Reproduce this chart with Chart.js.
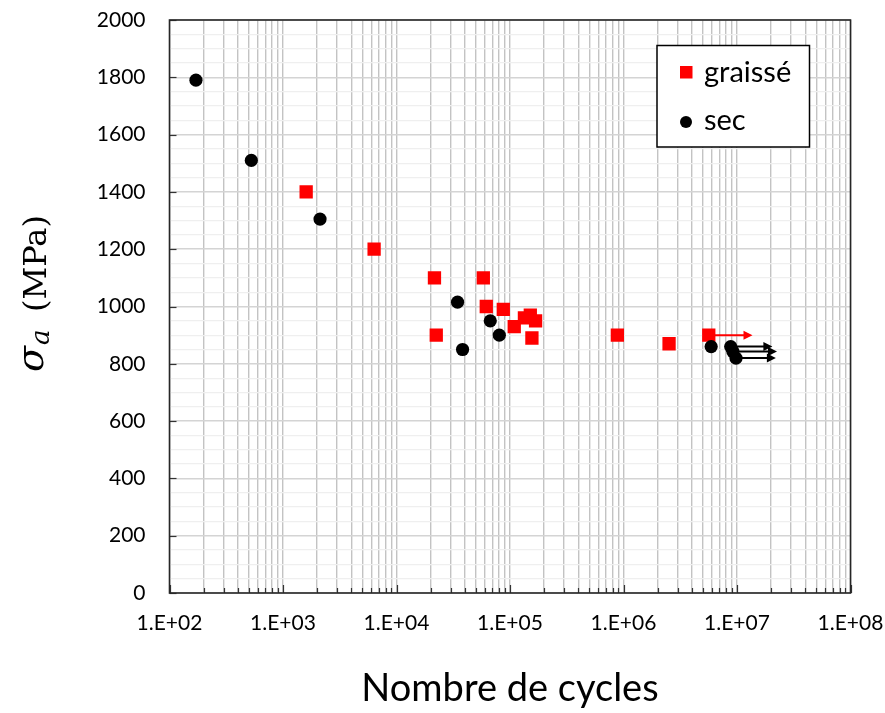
<!DOCTYPE html>
<html>
<head>
<meta charset="utf-8">
<script src="https://cdn.jsdelivr.net/npm/chart.js@4.4.1/dist/chart.umd.min.js"></script>
<style>
  html, body { margin: 0; padding: 0; background: #ffffff; }
  #wrap { width: 885px; height: 713px; position: relative; }
</style>
</head>
<body>
<div id="wrap"><canvas id="c" width="885" height="713"></canvas></div>
<script>
// ---- data ----
const graisseCycles = [1600, 6350, 21600, 22400, 58200, 61800, 87300, 109000, 134000, 151000, 156000, 168000, 883000, 2520000, 5640000];
const graisseStress = [1400, 1200, 1100, 900, 1100, 1000, 990, 930, 960, 970, 890, 950, 900, 870, 900];

const secCycles = [171, 526, 2120, 34500, 67000, 80500, 38200, 5920000, 8800000, 9200000, 9800000];
const secStress = [1790, 1510, 1305, 1015, 950, 900, 850, 860, 860, 843, 820];

// run-out arrows (non-broken specimens)
const runoutGraisseStart = [5640000];
const runoutGraisseEnd   = [13700000];
const runoutGraisseStress = [900];
const runoutSecStart = [8800000, 9200000, 9800000];
const runoutSecEnd   = [20500000, 22500000, 22000000];
const runoutSecStress = [860, 843, 820];

const seriesLabels = ['graissé', 'sec'];
const xDecades = [1e2, 1e3, 1e4, 1e5, 1e6, 1e7, 1e8];
const xTickLabels = ['1.E+02', '1.E+03', '1.E+04', '1.E+05', '1.E+06', '1.E+07', '1.E+08'];
const yMin = 0, yMax = 2000, yMajorStep = 200, yMinorStep = 50;
const xTitle = 'Nombre de cycles';
const yTitleSymbol = 'σ', yTitleSub = 'a', yTitleUnit = '(MPa)';

// ---- build ----
const toPts = (xs, ys) => xs.map((x, i) => ({ x: x, y: ys[i] }));
const xTickValues = [];
xDecades.forEach((d, i) => {
  if (i < xDecades.length - 1) { for (let k = 1; k <= 9; k++) xTickValues.push(d * k); }
  else xTickValues.push(d);
});
const labelFor = v => {
  const idx = xDecades.findIndex(d => Math.abs(v - d) / d < 1e-9);
  return idx >= 0 ? xTickLabels[idx] : '';
};

const FONT = 'Lato, "Open Sans", sans-serif';

const zeroPad = s => { s.paddingTop = 0; s.paddingBottom = 0; s.paddingLeft = 0; s.paddingRight = 0; };

const decorPlugin = {
  id: 'decor',
  afterDraw(chart) {
    const ctx = chart.ctx, a = chart.chartArea;
    const xs = chart.scales.x, ys = chart.scales.y;
    ctx.save();
    // inner tick marks
    ctx.strokeStyle = '#333333';
    ctx.lineWidth = 1.2;
    xTickValues.forEach(v => {
      const px = Math.round(xs.getPixelForValue(v)) + 0.5;
      const len = labelFor(v) ? 8 : 5;
      ctx.beginPath(); ctx.moveTo(px, a.bottom); ctx.lineTo(px, a.bottom - len); ctx.stroke();
    });
    for (let v = yMin; v <= yMax; v += yMajorStep) {
      const py = Math.round(ys.getPixelForValue(v)) + 0.5;
      ctx.beginPath(); ctx.moveTo(a.left, py); ctx.lineTo(a.left + 7, py); ctx.stroke();
    }
    // frame
    ctx.strokeStyle = '#262626';
    ctx.lineWidth = 1.6;
    ctx.strokeRect(a.left, a.top, a.right - a.left, a.bottom - a.top);

    // y title: sigma_a (MPa)
    ctx.translate(0, 372);
    ctx.rotate(-Math.PI / 2);
    ctx.fillStyle = '#000000';
    ctx.textBaseline = 'alphabetic';
    ctx.textAlign = 'left';
    ctx.font = 'italic 38px "DejaVu Serif", "Liberation Serif", serif';
    ctx.fillText(yTitleSymbol, 0, 43);
    const w1 = ctx.measureText(yTitleSymbol).width;
    ctx.font = 'italic 26px "DejaVu Serif", "Liberation Serif", serif';
    ctx.fillText(yTitleSub, w1 + 1, 49);
    ctx.font = '32px "DejaVu Serif", "Liberation Serif", serif';
    ctx.fillText(yTitleUnit, 60, 46);
    ctx.restore();

    // legend box
    ctx.save();
    const lx = 657, ly = 45.5, lw = 152.5, lh = 101.5;
    ctx.fillStyle = '#ffffff';
    ctx.fillRect(lx, ly, lw, lh);
    ctx.strokeStyle = '#000000';
    ctx.lineWidth = 1.5;
    ctx.strokeRect(lx, ly, lw, lh);
    const ds = chart.data.datasets;
    ctx.font = '29px ' + FONT;
    ctx.textBaseline = 'middle';
    ctx.textAlign = 'left';
    // graissé
    ctx.fillStyle = ds[0].backgroundColor;
    ctx.fillRect(680, 66, 12.5, 12.5);
    ctx.fillStyle = '#000000';
    ctx.fillText(ds[0].label, 704, 73);
    // sec
    ctx.fillStyle = ds[1].backgroundColor;
    ctx.beginPath(); ctx.arc(686, 122, 6, 0, Math.PI * 2); ctx.fill();
    ctx.fillStyle = '#000000';
    ctx.fillText(ds[1].label, 704, 121);
    ctx.restore();
  },
  afterDatasetsDraw(chart) {
    const ctx = chart.ctx;
    const xs = chart.scales.x, ys = chart.scales.y;
    const arrow = (x0, x1, y, color) => {
      const p0 = xs.getPixelForValue(x0), p1 = xs.getPixelForValue(x1), py = ys.getPixelForValue(y);
      ctx.strokeStyle = color; ctx.fillStyle = color; ctx.lineWidth = 2;
      ctx.beginPath(); ctx.moveTo(p0, py); ctx.lineTo(p1 - 7, py); ctx.stroke();
      ctx.beginPath(); ctx.moveTo(p1, py); ctx.lineTo(p1 - 9, py - 4.5); ctx.lineTo(p1 - 9, py + 4.5); ctx.closePath(); ctx.fill();
    };
    ctx.save();
    runoutGraisseStart.forEach((s, i) => arrow(s, runoutGraisseEnd[i], runoutGraisseStress[i], '#ff0000'));
    runoutSecStart.forEach((s, i) => arrow(s, runoutSecEnd[i], runoutSecStress[i], '#000000'));
    ctx.restore();
  }
};

new Chart(document.getElementById('c'), {
  type: 'scatter',
  data: {
    datasets: [
      {
        label: seriesLabels[0],
        data: toPts(graisseCycles, graisseStress),
        pointStyle: 'rect',
        pointRadius: 9.4,
        pointHoverRadius: 9.4,
        backgroundColor: '#ff0000',
        borderColor: '#ff0000',
        borderWidth: 0,
        order: 1
      },
      {
        label: seriesLabels[1],
        data: toPts(secCycles, secStress),
        pointStyle: 'circle',
        pointRadius: 6.6,
        pointHoverRadius: 6.6,
        backgroundColor: '#000000',
        borderColor: '#000000',
        borderWidth: 0,
        order: 0
      }
    ]
  },
  options: {
    responsive: false,
    animation: false,
    events: [],
    layout: { padding: { left: 0, right: 34.5, top: 20, bottom: 0 } },
    plugins: {
      legend: { display: false },
      tooltip: { enabled: false }
    },
    scales: {
      x: {
        type: 'logarithmic',
        min: xDecades[0],
        max: xDecades[xDecades.length - 1],
        afterBuildTicks: s => { s.ticks = xTickValues.map(v => ({ value: v, major: !!labelFor(v) })); },
        afterFit: s => { s.height = 120; zeroPad(s); },
        grid: { color: '#c3c3c3', lineWidth: 1.4, drawTicks: false },
        border: { display: false },
        ticks: {
          autoSkip: false,
          maxRotation: 0,
          minRotation: 0,
          padding: 18,
          color: '#000000',
          font: { family: FONT, size: 21 },
          callback: v => labelFor(v)
        },
        title: {
          display: true,
          text: xTitle,
          color: '#000000',
          font: { family: FONT, size: 38 },
          padding: { top: 0, bottom: 1 }
        }
      },
      y: {
        type: 'linear',
        min: yMin,
        max: yMax,
        afterFit: s => { s.width = 169.5; zeroPad(s); },
        grid: {
          drawTicks: false,
          color: c => (c.tick && c.tick.value % yMajorStep === 0) ? '#d4d4d4' : '#efefef',
          lineWidth: c => (c.tick && c.tick.value % yMajorStep === 0) ? 1.5 : 1.2
        },
        border: { display: false },
        ticks: {
          stepSize: yMinorStep,
          autoSkip: false,
          padding: 24,
          color: '#000000',
          font: { family: FONT, size: 21 },
          callback: v => (v % yMajorStep === 0 ? String(v) : '')
        }
      }
    }
  },
  plugins: [decorPlugin]
});
</script>
</body>
</html>
